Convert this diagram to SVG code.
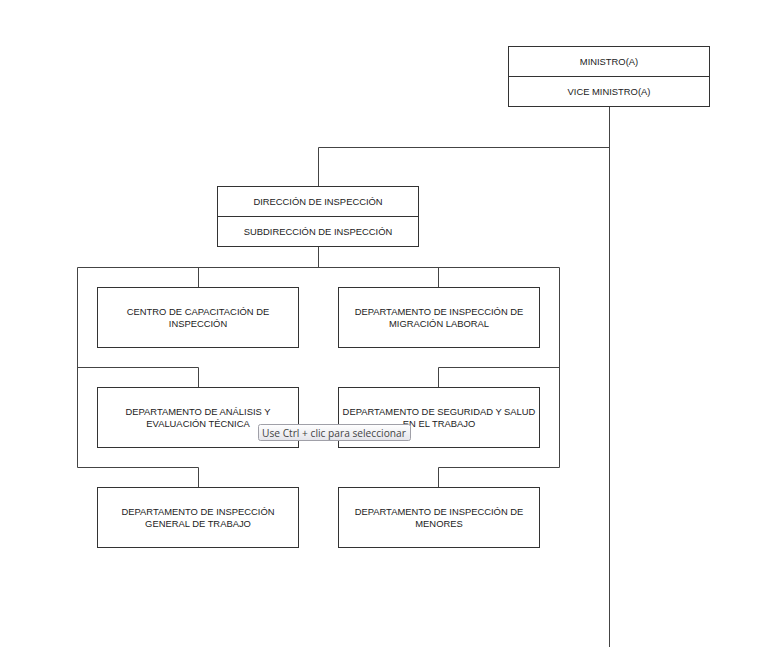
<svg xmlns="http://www.w3.org/2000/svg" width="768" height="664" viewBox="0 0 768 664">
<style>
.box{fill:#fff;stroke:#333;stroke-width:1}
.ln{fill:none;stroke:#444;stroke-width:1}
.t{font-family:"Liberation Sans",Arial,sans-serif;font-size:9.4px;fill:#222;text-anchor:middle}
.tip{font-family:"Open Sans","DejaVu Sans",sans-serif;font-size:10.2px;fill:#444}
</style>
<defs>
<linearGradient id="tg" x1="0" y1="0" x2="0" y2="1">
<stop offset="0" stop-color="#ffffff"/>
<stop offset="1" stop-color="#e4e4ea"/>
</linearGradient>
</defs>
<rect width="768" height="664" fill="#fff"/>
<g id="connectors">
<path class="ln" d="M609.5 106 V647"/>
<path class="ln" d="M609.5 147.5 H318.5 V186"/>
<path class="ln" d="M318.5 247 V267.5"/>
<path class="ln" d="M77.5 267.5 H559.5 V467.5 H438.5 V487"/>
<path class="ln" d="M77.5 267.5 V467.5 H198.5 V487"/>
<path class="ln" d="M198.5 267.5 V287"/>
<path class="ln" d="M438.5 267.5 V287"/>
<path class="ln" d="M77.5 367.5 H198.5 V387"/>
<path class="ln" d="M559.5 367.5 H438.5 V387"/>
</g>
<g id="ministro">
<rect class="box" x="508.5" y="46.5" width="201" height="30"/>
<text class="t" x="609" y="64.5">MINISTRO(A)</text>
</g>
<g id="viceministro">
<rect class="box" x="508.5" y="76.5" width="201" height="30"/>
<text class="t" x="609" y="94.5">VICE MINISTRO(A)</text>
</g>
<g id="direccion">
<rect class="box" x="217.5" y="186.5" width="201" height="30"/>
<text class="t" x="318" y="204.5">DIRECCIÓN DE INSPECCIÓN</text>
</g>
<g id="subdireccion">
<rect class="box" x="217.5" y="216.5" width="201" height="30"/>
<text class="t" x="318" y="234.5">SUBDIRECCIÓN DE INSPECCIÓN</text>
</g>
<g id="centro">
<rect class="box" x="97.5" y="287.5" width="201" height="60"/>
<text class="t" x="198" y="314.5">CENTRO DE CAPACITACIÓN DE</text>
<text class="t" x="198" y="326.5">INSPECCIÓN</text>
</g>
<g id="migracion">
<rect class="box" x="338.5" y="287.5" width="201" height="60"/>
<text class="t" x="439" y="314.5">DEPARTAMENTO DE INSPECCIÓN DE</text>
<text class="t" x="439" y="326.5">MIGRACIÓN LABORAL</text>
</g>
<g id="analisis">
<rect class="box" x="97.5" y="387.5" width="201" height="60"/>
<text class="t" x="198" y="414.5">DEPARTAMENTO DE ANÁLISIS Y</text>
<text class="t" x="198" y="426.5">EVALUACIÓN TÉCNICA</text>
</g>
<g id="seguridad">
<rect class="box" x="338.5" y="387.5" width="201" height="60"/>
<text class="t" x="439" y="414.5">DEPARTAMENTO DE SEGURIDAD Y SALUD</text>
<text class="t" x="439" y="426.5">EN EL TRABAJO</text>
</g>
<g id="general">
<rect class="box" x="97.5" y="487.5" width="201" height="60"/>
<text class="t" x="198" y="514.5">DEPARTAMENTO DE INSPECCIÓN</text>
<text class="t" x="198" y="526.5">GENERAL DE TRABAJO</text>
</g>
<g id="menores">
<rect class="box" x="338.5" y="487.5" width="201" height="60"/>
<text class="t" x="439" y="514.5">DEPARTAMENTO DE INSPECCIÓN DE</text>
<text class="t" x="439" y="526.5">MENORES</text>
</g>
<g id="tooltip">
<rect x="258.5" y="424.5" width="152" height="16" rx="2" fill="url(#tg)" stroke="#a0a0a8"/>
<text class="tip" x="262" y="436.5">Use Ctrl + clic para seleccionar</text>
</g>
</svg>
